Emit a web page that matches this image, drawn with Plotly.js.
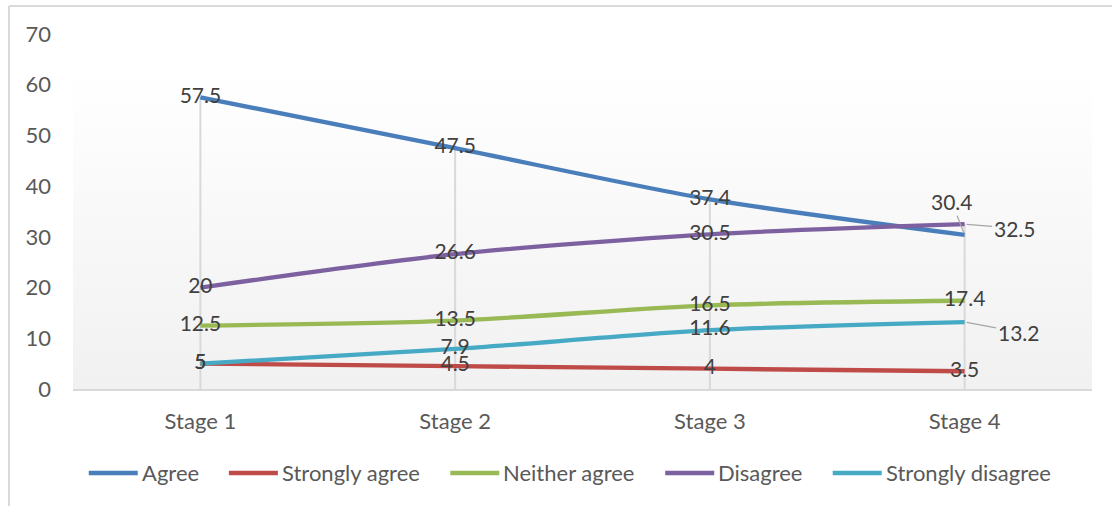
<!DOCTYPE html>
<html>
<head>
<meta charset="utf-8">
<script src="https://cdn.plot.ly/plotly-3.0.1.min.js"></script>
<style>
html,body{margin:0;padding:0;background:#fff;}
#chart{width:1112px;height:506px;}
</style>
</head>
<body>
<div id="chart"></div>
<script>
var categories = ["Stage 1", "Stage 2", "Stage 3", "Stage 4"];
var seriesNames = ["Agree", "Strongly agree", "Neither agree", "Disagree", "Strongly disagree"];
var agree = [57.5, 47.5, 37.4, 30.4];
var stronglyAgree = [5, 4.5, 4, 3.5];
var neitherAgree = [12.5, 13.5, 16.5, 17.4];
var disagree = [20, 26.6, 30.5, 32.5];
var stronglyDisagree = [5, 7.9, 11.6, 13.2];
var yTicks = [0, 10, 20, 30, 40, 50, 60, 70];

var allSeries = [agree, stronglyAgree, neitherAgree, disagree, stronglyDisagree];
var colors = ["#4a7ebb", "#be4b48", "#98b954", "#7d60a0", "#46aac5"];
var FONT = "Lato, 'Open Sans', sans-serif";
var labelColor = "#404040";
var tickColor = "#595959";

var W = 1112, H = 506;
var M = {l: 73, r: 20, t: 34, b: 117};
var plotW = W - M.l - M.r, plotH = H - M.t - M.b;
function px2paperX(px) { return (px - M.l) / plotW; }
function px2paperY(py) { return (H - M.b - py) / plotH; }

var traces = [];

// drop lines from highest point to axis at each category
var dx = [], dy = [];
categories.forEach(function (c, i) {
  var m = Math.max.apply(null, allSeries.map(function (s) { return s[i]; }));
  dx.push(c, c, null); dy.push(m, 0, null);
});
traces.push({
  x: dx, y: dy, mode: "lines", type: "scatter",
  line: {color: "#d9d9d9", width: 2},
  hoverinfo: "skip", showlegend: false
});

allSeries.forEach(function (s, k) {
  traces.push({
    x: categories, y: s, name: seriesNames[k], type: "scatter", mode: "lines",
    line: {color: colors[k], width: 4.3, shape: "spline", smoothing: 0.8},
    showlegend: false
  });
});

// labels (those with leader lines at stage 4 are annotations)
var leaderIdx = {0: true, 3: true, 4: true};
allSeries.forEach(function (s, k) {
  var txt = s.map(function (v, i) {
    return (i === 3 && leaderIdx[k]) ? "" : String(v);
  });
  traces.push({
    x: categories, y: s, type: "scatter", mode: "text", text: txt,
    textposition: "middle center",
    textfont: {family: FONT, size: 21, color: labelColor},
    hoverinfo: "skip", showlegend: false
  });
});

var last = categories.length - 1;
var annotations = [
  {x: categories[last], y: agree[last], ax: -13, ay: -33, text: String(agree[last])},
  {x: categories[last], y: disagree[last], ax: 50, ay: 4, text: String(disagree[last])},
  {x: categories[last], y: stronglyDisagree[last], ax: 54, ay: 10, text: String(stronglyDisagree[last])}
].map(function (a) {
  return Object.assign({
    xref: "x", yref: "y", axref: "pixel", ayref: "pixel",
    showarrow: true, arrowhead: 0, arrowwidth: 1.2, arrowcolor: "#a6a6a6",
    standoff: 2, startstandoff: 0,
    font: {family: FONT, size: 21, color: labelColor}
  }, a);
});

var shapes = [
  {type: "line", xref: "paper", yref: "paper", x0: px2paperX(9), x1: px2paperX(1115),
   y0: px2paperY(6), y1: px2paperY(6), line: {color: "#d9d9d9", width: 2}},
  {type: "line", xref: "paper", yref: "paper", x0: px2paperX(9), x1: px2paperX(9),
   y0: px2paperY(6), y1: px2paperY(510), line: {color: "#d9d9d9", width: 2}}
];

// legend built from series names and colours (line sample + text)
var LEG_FONT = 22, LINE_LEN = 52, TEXT_GAP = 1, ITEM_GAP = 30, LEG_CX = 568, LEG_Y = 473;
var ctx = document.createElement("canvas").getContext("2d");
ctx.font = LEG_FONT + "px Lato";
var widths = seriesNames.map(function (n) { return ctx.measureText(n).width; });
var total = widths.reduce(function (a, w) { return a + LINE_LEN + TEXT_GAP + w; }, 0) + ITEM_GAP * (seriesNames.length - 1);
var cur = LEG_CX - total / 2;
seriesNames.forEach(function (n, k) {
  shapes.push({type: "line", xref: "paper", yref: "paper",
    x0: px2paperX(cur + 2), x1: px2paperX(cur + LINE_LEN - 1),
    y0: px2paperY(LEG_Y), y1: px2paperY(LEG_Y),
    line: {color: colors[k], width: 4.3}});
  annotations.push({xref: "paper", yref: "paper", x: px2paperX(cur + LINE_LEN + TEXT_GAP), y: px2paperY(LEG_Y),
    xanchor: "left", yanchor: "middle", showarrow: false, text: n,
    font: {family: FONT, size: LEG_FONT, color: tickColor}});
  cur += LINE_LEN + TEXT_GAP + widths[k] + ITEM_GAP;
});

var svg = '<svg xmlns="http://www.w3.org/2000/svg" width="100" height="100" preserveAspectRatio="none">' +
  '<defs><linearGradient id="g" x1="0" y1="0" x2="0" y2="1">' +
  '<stop offset="0.1" stop-color="#ffffff"/><stop offset="1" stop-color="#f1f1f1"/>' +
  '</linearGradient></defs><rect width="100" height="100" fill="url(#g)"/></svg>';

var layout = {
  width: W, height: H,
  margin: M,
  paper_bgcolor: "#ffffff",
  plot_bgcolor: "rgba(0,0,0,0)",
  font: {family: FONT, size: 22, color: tickColor},
  showlegend: false,
  xaxis: {
    type: "category", range: [-0.5, 3.5], showgrid: false, zeroline: false,
    showline: true, linecolor: "#d9d9d9", linewidth: 2, ticks: "",
    tickfont: {family: FONT, size: 22, color: tickColor},
    ticklabelstandoff: 12, fixedrange: true
  },
  yaxis: {
    range: [0, 70], tickvals: yTicks, ticktext: yTicks.map(String),
    showgrid: false, zeroline: false, showline: false, ticks: "",
    tickfont: {family: FONT, size: 22, color: tickColor},
    ticklabelstandoff: 21, fixedrange: true
  },
  images: [{
    source: "data:image/svg+xml;charset=utf-8," + encodeURIComponent(svg),
    xref: "paper", yref: "paper", x: 0, y: 1, sizex: 1, sizey: 1,
    sizing: "stretch", xanchor: "left", yanchor: "top", layer: "below"
  }],
  shapes: shapes,
  annotations: annotations
};

Plotly.newPlot("chart", traces, layout, {displayModeBar: false, staticPlot: true});
</script>
</body>
</html>
